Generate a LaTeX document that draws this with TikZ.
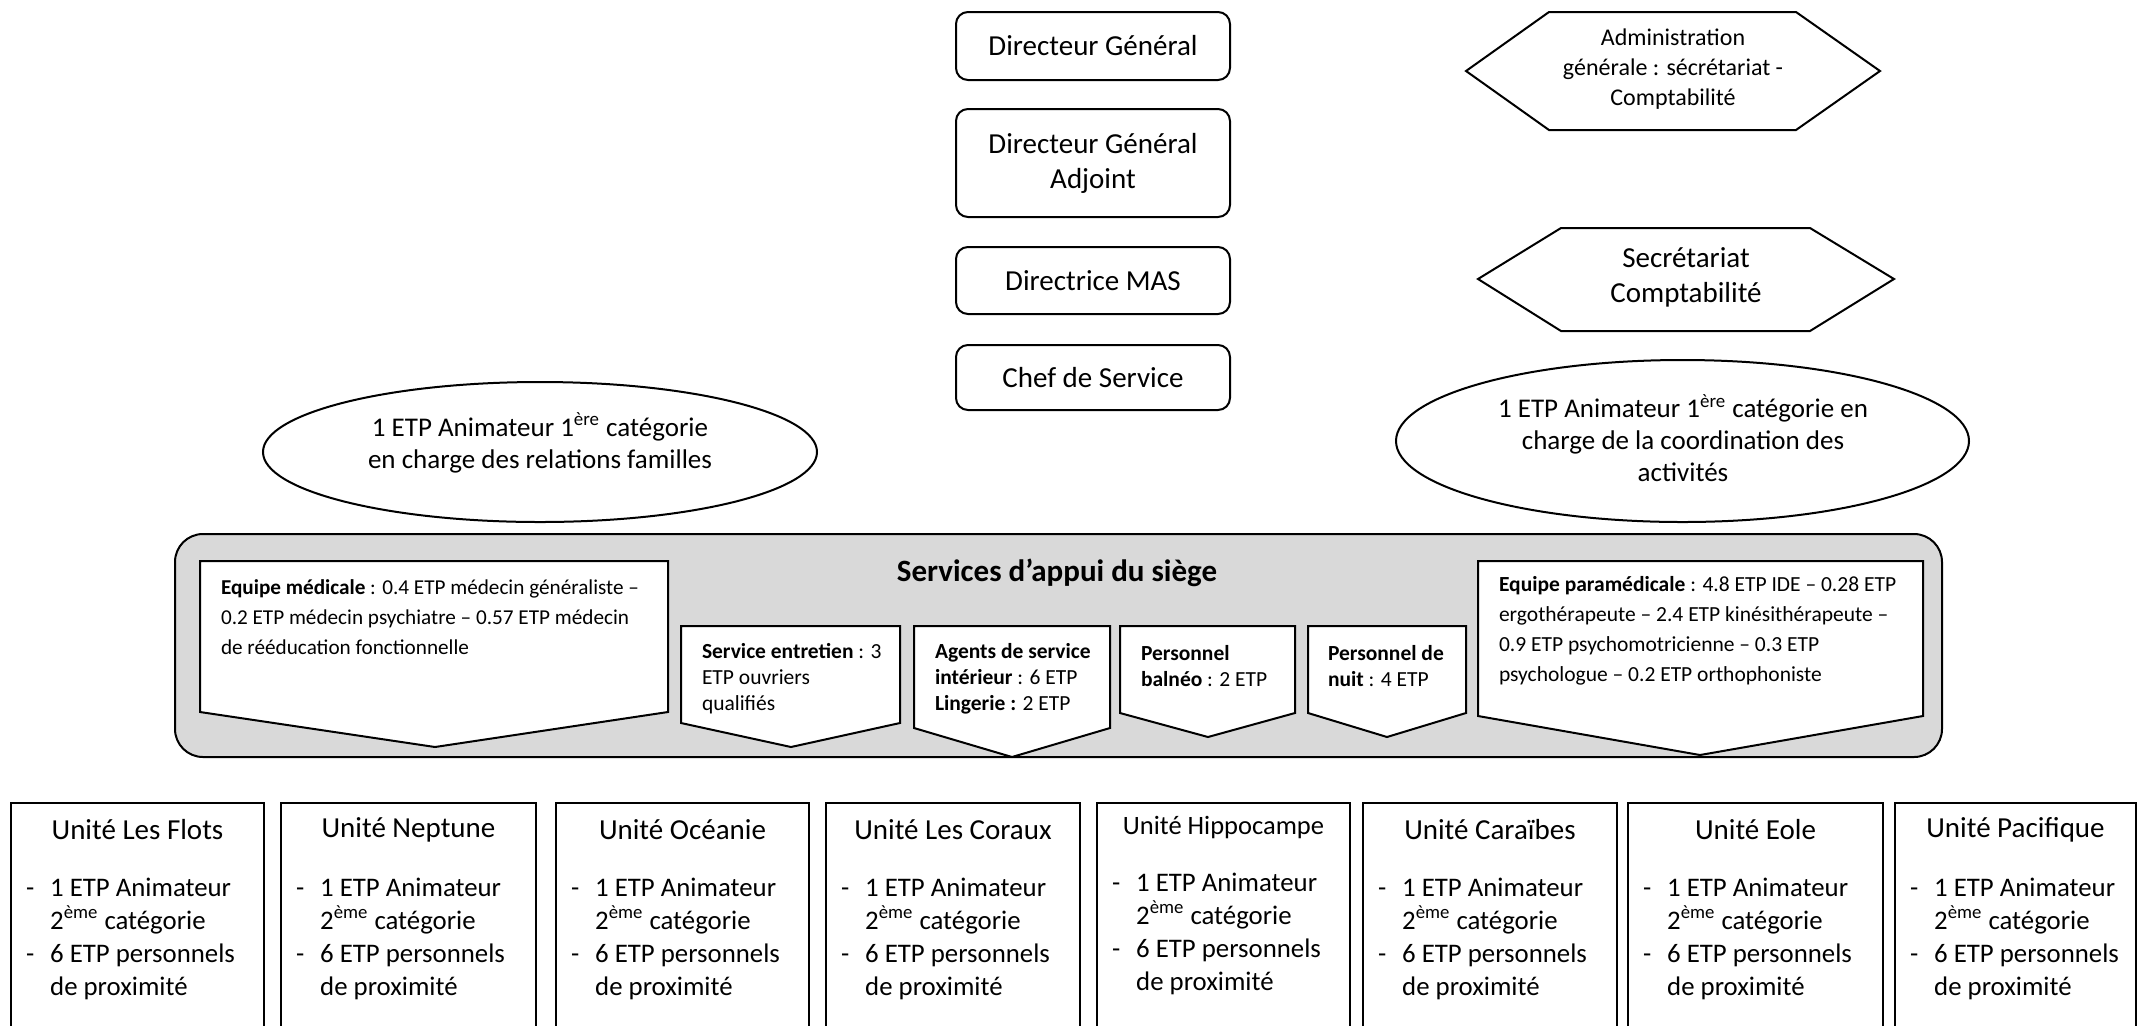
\documentclass[tikz,border=0pt]{standalone}
\usepackage{fontspec}
\setmainfont{Carlito}
\usetikzlibrary{shapes.geometric}
\definecolor{graybg}{RGB}{217,217,217}
\begin{document}
\begin{tikzpicture}[x=0.5pt,y=-0.5pt, line width=1pt,
  topbox/.style={draw, rounded corners=6pt, align=center, inner sep=0pt, minimum width=137pt, font=\fontsize{14.5}{17.5}\selectfont},
  hexline/.style={draw, line join=miter},
  oval/.style={draw, ellipse, inner sep=0pt},
  ovaltxt/.style={align=center, inner sep=0pt, font=\fontsize{13.5}{16}\selectfont},
  tagbox/.style={draw, fill=white, line join=miter},
  smalltxt/.style={align=left, inner sep=0pt, anchor=west, font=\fontsize{10.6}{15}\selectfont},
  smalltxtb/.style={align=left, inner sep=0pt, anchor=west, font=\fontsize{10.75}{13}\selectfont},
  unitbox/.style={draw, inner sep=0pt, minimum height=125pt},
  unittitle/.style={inner sep=0pt, font=\fontsize{14.5}{17}\selectfont},
  unitlist/.style={anchor=west, inner sep=0pt, font=\fontsize{13.4}{16.5}\selectfont},
]
\useasboundingbox (0,0) rectangle (2138,1025);
\clip (0,0) rectangle (2138,1025);

% top hierarchy boxes
\node[topbox, minimum height=34pt] (dg) at (1093,46) {Directeur Général};
\node[topbox, minimum height=54pt] (dga) at (1093,163) {Directeur Général\\Adjoint};
\node[topbox, minimum height=33.5pt] (mas) at (1093,280.5) {Directrice MAS};
\node[topbox, minimum height=32.5pt] (chef) at (1093,377.5) {Chef de Service};

% hexagons
\draw[hexline] (1466,71) -- (1549,12) -- (1796,12) -- (1880,71) -- (1796,130) -- (1549,130) -- cycle;
\node[align=center, inner sep=0pt, font=\fontsize{12}{15}\selectfont] (admin) at (1673,69) {Administration\\générale : sécrétariat -\\Comptabilité};
\draw[hexline] (1478,279) -- (1561,228) -- (1810,228) -- (1894,279) -- (1810,331) -- (1561,331) -- cycle;
\node[align=center, inner sep=0pt, font=\fontsize{14.5}{17.5}\selectfont] (secr) at (1686,277) {Secrétariat\\Comptabilité};

% ellipses
\node[oval, minimum width=277pt, minimum height=70pt] (famille) at (540,452) {};
\node[ovaltxt] (familletxt) at (540,443) {1 ETP Animateur 1\textsuperscript{ère} catégorie\\en charge des relations familles};
\node[oval, minimum width=286.5pt, minimum height=81pt] (coord) at (1682.5,441) {};
\node[ovaltxt] (coordtxt) at (1683,438) {1 ETP Animateur 1\textsuperscript{ère} catégorie en\\charge de la coordination des\\activités};

% support services
\node[draw, fill=graybg, rounded corners=14pt, minimum width=883.5pt, minimum height=111.5pt, inner sep=0pt] (appui) at (1058.5,645.5) {};
\node[inner sep=0pt, font=\bfseries\fontsize{15.5}{18}\selectfont] (appuititle) at (1057,573) {Services d’appui du siège};

\draw[tagbox] (200,561) -- (668,561) -- (668,712) -- (435,747) -- (200,712) -- cycle;
\node[smalltxt] (medtxt) at (220,617) {\textbf{Equipe médicale} : 0.4 ETP médecin généraliste –\\0.2 ETP médecin psychiatre – 0.57 ETP médecin\\de rééducation fonctionnelle};

\draw[tagbox] (681,626) -- (900,626) -- (900,723) -- (791,747) -- (681,723) -- cycle;
\node[smalltxtb] (entrtxt) at (701,679) {\textbf{Service entretien} : 3\\ETP ouvriers\\qualifiés};

\draw[tagbox] (914,626) -- (1110,626) -- (1110,728) -- (1012,757) -- (914,728) -- cycle;
\node[smalltxtb] (agtxt) at (934,679) {\textbf{Agents de service}\\\textbf{intérieur} : 6 ETP\\\textbf{Lingerie :} 2 ETP};

\draw[tagbox] (1120,626) -- (1295,626) -- (1295,713) -- (1208,737) -- (1120,713) -- cycle;
\node[smalltxtb] (baltxt) at (1140,666) {\textbf{Personnel}\\\textbf{balnéo} : 2 ETP};

\draw[tagbox] (1308,626) -- (1466,626) -- (1466,713) -- (1387,737) -- (1308,713) -- cycle;
\node[smalltxtb] (nuittxt) at (1327,666) {\textbf{Personnel de}\\\textbf{nuit} : 4 ETP};

\draw[tagbox] (1478,561) -- (1923,561) -- (1923,716) -- (1700,755) -- (1478,716) -- cycle;
\node[smalltxt, font=\fontsize{10.75}{15}\selectfont] (paratxt) at (1498,631) {\textbf{Equipe paramédicale} : 4.8 ETP IDE – 0.28 ETP\\ergothérapeute – 2.4 ETP kinésithérapeute –\\0.9 ETP psychomotricienne – 0.3 ETP\\psychologue – 0.2 ETP orthophoniste};

% units
\foreach \xa/\xb/\nm/\ttl/\fs/\ty/\ly in {11/264/u1/{Unité Les Flots}/14.5/830/939, 281/536/u2/{Unité Neptune}/14.5/830/939, 556/809/u3/{Unité Océanie}/14.5/830/939, 826/1080/u4/{Unité Les Coraux}/14.5/830/939, 1097/1350/u5/{Unité Hippocampe}/13.25/828/934, 1363/1617/u6/{Unité Caraïbes}/14.5/830/939, 1628/1883/u7/{Unité Eole}/14.5/830/939, 1895/2136/u8/{Unité Pacifique}/14.5/830/939}{
  \pgfmathsetmacro\cx{(\xa+\xb)/2}
  \pgfmathsetmacro\bw{(\xb-\xa)/2}
  \node[unitbox, minimum width=\bw pt] (\nm) at (\cx,928) {};
  \node[unittitle, font=\fontsize{\fs}{17}\selectfont] (\nm-t) at (\cx,\ty) {\ttl};
  \node[unitlist] (\nm-l) at (\xa+14,\ly) {\begin{tabular}{@{}l@{\hspace{8pt}}l@{}}-&1 ETP Animateur\\&2\textsuperscript{ème} catégorie\\-&6 ETP personnels\\&de proximité\end{tabular}};
}
\end{tikzpicture}
\end{document}
